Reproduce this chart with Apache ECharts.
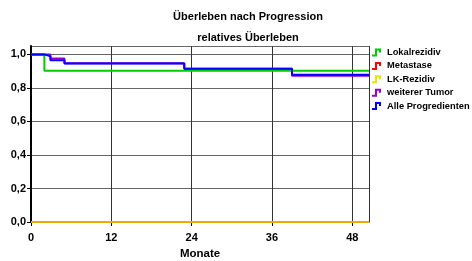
<!DOCTYPE html>
<html>
<head>
<meta charset="utf-8">
<script src="https://cdn.jsdelivr.net/npm/echarts@6/dist/echarts.min.js"></script>
<style>
  html, body { margin: 0; padding: 0; background: #fff; }
  #main { width: 472px; height: 261px; }
</style>
</head>
<body>
<div id="main"></div>
<script>
// Kaplan-Meier Kurven (Monate, relatives Überleben)
var seriesNames = ['Lokalrezidiv', 'Metastase', 'LK-Rezidiv', 'weiterer Tumor', 'Alle Progredienten'];
var seriesColors = ['#00cc00', '#ff0000', '#e6e600', '#9900cc', '#0000ff'];

var lokalTimes = [0, 2, 50.5];
var lokalSurv = [1.0, 0.903, 0.903];
var metaTimes = [0, 50.5];
var metaSurv = [0, 0];
var lkTimes = [0, 50.5];
var lkSurv = [0, 0];
var tumorTimes = [0, 2.9, 5, 22.9, 39, 50.5];
var tumorSurv = [1.0, 0.975, 0.947, 0.915, 0.873, 0.873];
var alleTimes = [0, 2, 2.9, 5, 22.9, 39, 50.5];
var alleSurv = [1.0, 0.989, 0.965, 0.945, 0.915, 0.878, 0.878];

var xTicks = [0, 12, 24, 36, 48];

function pairs(t, s) {
    var out = [];
    for (var i = 0; i < t.length; i++) out.push([t[i], s[i]]);
    return out;
}

var allData = [
    pairs(lokalTimes, lokalSurv),
    pairs(metaTimes, metaSurv),
    pairs(lkTimes, lkSurv),
    pairs(tumorTimes, tumorSurv),
    pairs(alleTimes, alleSurv)
];

// Stufen-Symbol für die Legende
var stepIcon = 'path://M0,6 H3 V0 H9 V4 H7 V2 H5 V8 H0 Z';
var fnt = 'Liberation Sans';

var series = [];
for (var i = 0; i < seriesNames.length; i++) {
    series.push({
        name: seriesNames[i],
        type: 'line',
        step: 'end',
        data: allData[i],
        showSymbol: false,
        clip: false,
        lineStyle: { color: seriesColors[i], width: 2, opacity: i === 2 ? 0.75 : 1 },
        itemStyle: { color: seriesColors[i] }
    });
}

var myChart = echarts.init(document.getElementById('main'));
var option = {
    animation: false,
    textStyle: { fontFamily: fnt },
    title: [
        { text: 'Überleben nach Progression', left: 243, top: 6, textAlign: 'center',
          textStyle: { fontFamily: fnt, fontSize: 11, fontWeight: 'bold', color: '#000' } },
        { text: 'relatives Überleben', left: 243, top: 27, textAlign: 'center',
          textStyle: { fontFamily: fnt, fontSize: 11, fontWeight: 'bold', color: '#000' } }
    ],
    legend: {
        orient: 'vertical',
        left: 372,
        top: 46,
        padding: 0,
        itemWidth: 11,
        itemHeight: 8,
        itemGap: 0.4,
        icon: stepIcon,
        textStyle: { fontFamily: fnt, fontSize: 9.3, fontWeight: 'bold', color: '#000', lineHeight: 13 },
        data: seriesNames
    },
    grid: { left: 31, right: 103, top: 46, bottom: 39, containLabel: false, outerBoundsMode: 'none' },
    xAxis: {
        type: 'value',
        min: 0,
        max: 50.5,
        interval: 12,
        name: 'Monate',
        nameLocation: 'middle',
        nameGap: 26,
        nameTextStyle: { fontFamily: fnt, fontSize: 11.5, fontWeight: 'bold', color: '#000' },
        axisLine: { show: true, lineStyle: { color: '#333', width: 1 } },
        axisTick: { show: true, length: 4, lineStyle: { color: '#000' } },
        axisLabel: {
            fontFamily: fnt, fontSize: 11, fontWeight: 'bold', color: '#000', margin: 10,
            showMaxLabel: false,
            formatter: function (v) { return xTicks.indexOf(v) >= 0 ? String(v) : ''; }
        },
        splitLine: { show: true, lineStyle: { color: '#333', width: 1 } }
    },
    yAxis: {
        type: 'value',
        min: 0,
        max: 1.05,
        interval: 0.2,
        axisLine: { show: true, lineStyle: { color: '#000', width: 2 } },
        axisTick: { show: true, length: 4, lineStyle: { color: '#000' } },
        axisLabel: {
            fontFamily: fnt, fontSize: 11, fontWeight: 'bold', color: '#000', margin: 5,
            showMaxLabel: false,
            formatter: function (v) { return v.toFixed(1).replace('.', ','); }
        },
        splitLine: { show: true, lineStyle: { color: '#666', width: 1 } }
    },
    series: series
};
myChart.setOption(option);
</script>
</body>
</html>
